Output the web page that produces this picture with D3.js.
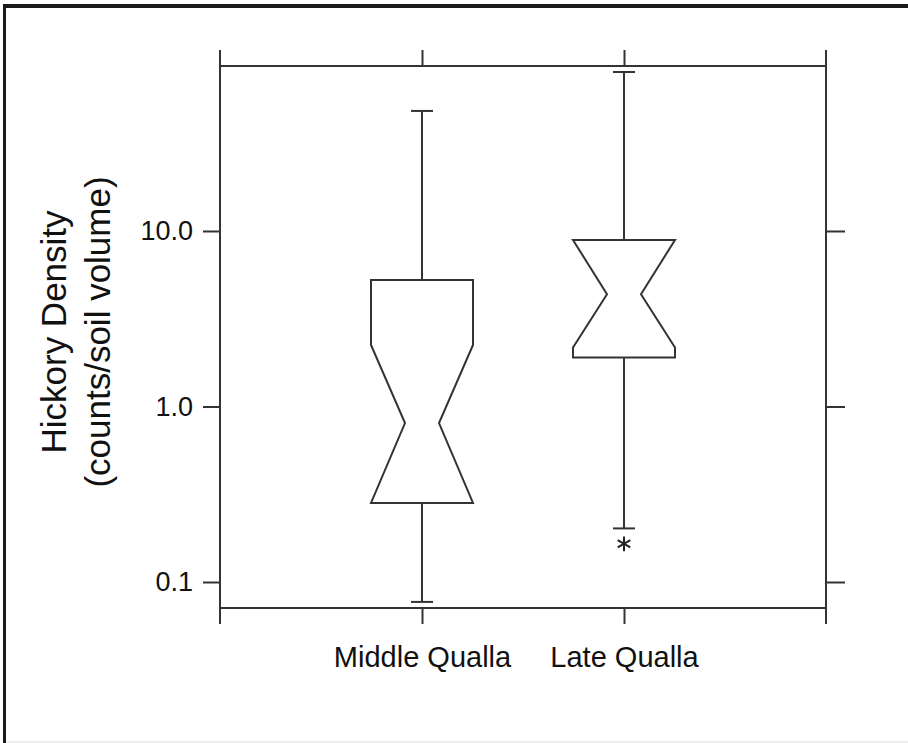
<!doctype html>
<html>
<head>
<meta charset="utf-8">
<title>Hickory Density</title>
<style>
  body { margin: 0; background: #fff; }
  text { font-family: "Liberation Sans", Arial, sans-serif; fill: #111; }
</style>
</head>
<body>
<script src="https://d3js.org/d3.v7.min.js"></script>
<script>
// categories and box statistics
var groups   = ["Middle Qualla", "Late Qualla"];
var whiskLo  = [0.077, 0.202];
var q1       = [0.282, 1.90];
var notchLo  = [0.282, 2.17];
var median   = [0.805, 4.36];
var notchHi  = [2.24, 8.89];
var q3       = [5.26, 8.89];
var whiskHi  = [48.3, 80.5];
var outliers = [[], [0.165]];
var yTicks   = [0.1, 1, 10];

var w = 908, h = 743;
var pLeft = 220, pRight = 826, pTop = 66, pBottom = 608;

var svg = d3.select("body").append("svg")
  .attr("width", w).attr("height", h);

// outer picture frame
svg.append("rect").attr("x", 3).attr("y", 4).attr("width", w).attr("height", 4).attr("fill", "#1a1a1a");
svg.append("rect").attr("x", 3).attr("y", 4).attr("width", 3).attr("height", h).attr("fill", "#1a1a1a");
svg.append("rect").attr("x", 6).attr("y", h - 2).attr("width", w).attr("height", 2).attr("fill", "#eee");

var x = d3.scalePoint().domain(groups).range([pLeft, pRight]).padding(1);
var y = d3.scaleLog().domain([0.0711, 87.1]).range([pBottom, pTop]);

var stroke = "#333";

// frame of the plot, side lines run past the corners like ticks
var frame = svg.append("g").attr("stroke", stroke).attr("stroke-width", 2).attr("fill", "none");
frame.append("line").attr("x1", pLeft).attr("x2", pRight).attr("y1", pTop).attr("y2", pTop);
frame.append("line").attr("x1", pLeft).attr("x2", pRight).attr("y1", pBottom).attr("y2", pBottom);
frame.append("line").attr("x1", pLeft).attr("x2", pLeft).attr("y1", pTop - 16).attr("y2", pBottom + 16);
frame.append("line").attr("x1", pRight).attr("x2", pRight).attr("y1", pTop - 16).attr("y2", pBottom + 16);

// axes
function styleAxis(g) {
  g.select(".domain").remove();
  g.selectAll(".tick line").attr("stroke", stroke).attr("stroke-width", 2);
}

svg.append("g")
  .attr("transform", "translate(0," + pBottom + ")")
  .call(d3.axisBottom(x).tickSize(16).tickPadding(22))
  .call(styleAxis)
  .selectAll("text")
  .attr("font-size", "29px")
  .attr("font-family", "Liberation Sans, Arial, sans-serif")
  .attr("fill", "#111");

svg.append("g")
  .attr("transform", "translate(0," + pTop + ")")
  .call(d3.axisTop(x).tickSize(16).tickFormat(""))
  .call(styleAxis);

svg.append("g")
  .attr("transform", "translate(" + pLeft + ",0)")
  .call(d3.axisLeft(y).tickValues(yTicks).tickSize(17).tickPadding(10).tickFormat(d3.format(".1f")))
  .call(styleAxis)
  .selectAll("text")
  .attr("font-size", "27px")
  .attr("font-family", "Liberation Sans, Arial, sans-serif")
  .attr("fill", "#111");

svg.append("g")
  .attr("transform", "translate(" + pRight + ",0)")
  .call(d3.axisRight(y).tickValues(yTicks).tickSize(19).tickFormat(""))
  .call(styleAxis);

// y label
var ylab = svg.append("text")
  .attr("transform", "translate(0,332) rotate(-90)")
  .attr("text-anchor", "middle")
  .attr("font-size", "35px");
ylab.append("tspan").attr("x", 0).attr("y", 66).text("Hickory Density");
ylab.append("tspan").attr("x", 0).attr("y", 110).text("(counts/soil volume)");

// boxes
var boxHalf = 51, notchHalf = 17, capHalf = 11;
var boxes = svg.append("g").attr("stroke", stroke).attr("stroke-width", 2).attr("fill", "none");

groups.forEach(function(g, i) {
  var cx = x(g);
  // whiskers
  boxes.append("line").attr("x1", cx).attr("x2", cx).attr("y1", y(whiskHi[i])).attr("y2", y(q3[i]));
  boxes.append("line").attr("x1", cx).attr("x2", cx).attr("y1", y(q1[i])).attr("y2", y(whiskLo[i]));
  boxes.append("line").attr("x1", cx - capHalf).attr("x2", cx + capHalf).attr("y1", y(whiskHi[i])).attr("y2", y(whiskHi[i]));
  boxes.append("line").attr("x1", cx - capHalf).attr("x2", cx + capHalf).attr("y1", y(whiskLo[i])).attr("y2", y(whiskLo[i]));

  // notched box outline
  var pts = [
    [cx - boxHalf, y(q3[i])],
    [cx + boxHalf, y(q3[i])],
    [cx + boxHalf, y(notchHi[i])],
    [cx + notchHalf, y(median[i])],
    [cx + boxHalf, y(notchLo[i])],
    [cx + boxHalf, y(q1[i])],
    [cx - boxHalf, y(q1[i])],
    [cx - boxHalf, y(notchLo[i])],
    [cx - notchHalf, y(median[i])],
    [cx - boxHalf, y(notchHi[i])]
  ];
  boxes.append("path").attr("d", d3.line()(pts) + "Z").attr("stroke-linejoin", "miter");

  // outliers as asterisks
  outliers[i].forEach(function(v) {
    svg.append("path")
      .attr("d", d3.symbol().type(d3.symbolAsterisk).size(150)())
      .attr("transform", "translate(" + cx + "," + y(v) + ")")
      .attr("stroke", "#222").attr("stroke-width", 2);
  });
});
</script>
</body>
</html>
